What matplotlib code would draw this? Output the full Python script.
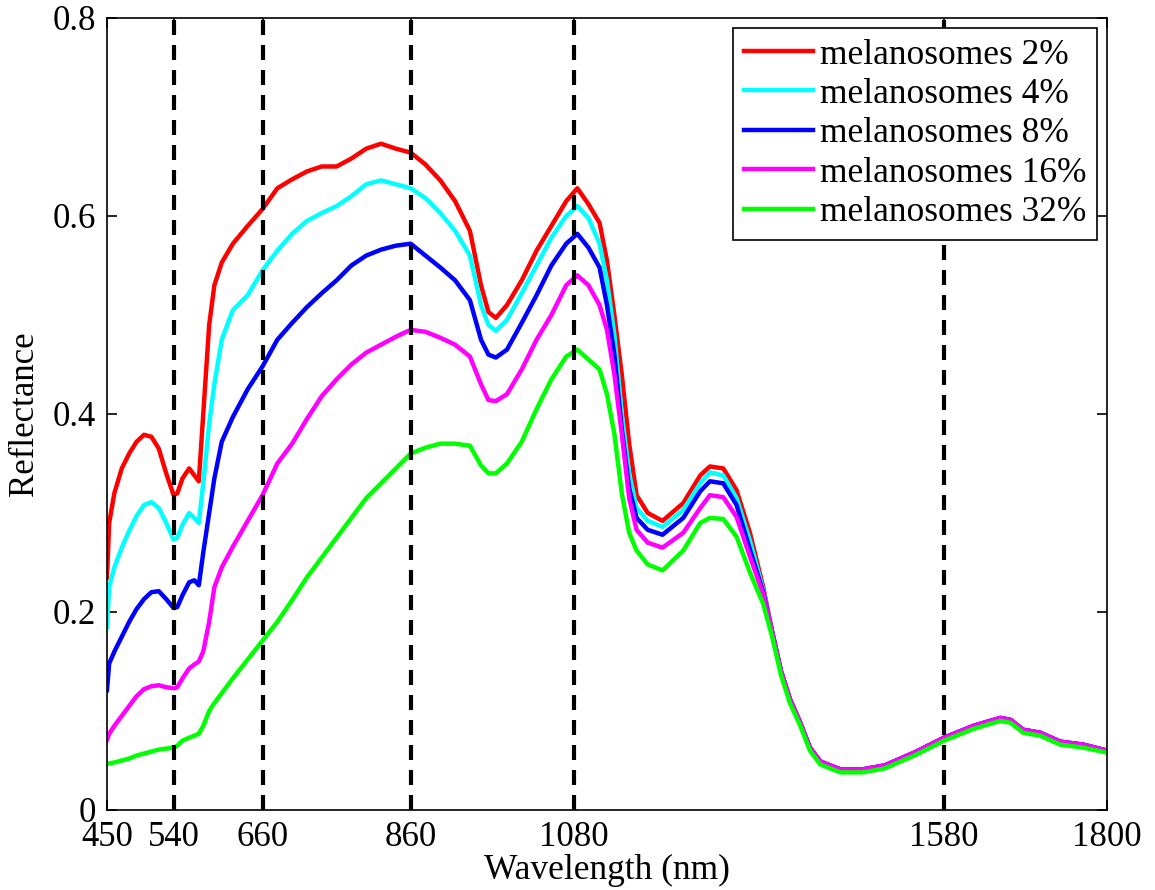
import matplotlib
matplotlib.use("Agg")
import matplotlib.pyplot as plt

plt.rcParams['font.family'] = ['Liberation Serif', 'DejaVu Serif']

# wavelength grid (nm)
wavelength = [450, 453, 460, 470, 480, 490, 500, 510, 520, 530,
              540, 545, 552, 561, 568, 574, 580, 588, 595, 605,
              620, 640, 660, 680, 700, 720, 740, 760, 780, 800,
              820, 840, 860, 880, 900, 920, 940, 955, 965, 975,
              990, 1010, 1030, 1050, 1070, 1085, 1100, 1115, 1125, 1135,
              1145, 1155, 1165, 1180, 1200, 1228, 1251, 1264, 1282, 1300,
              1318, 1336, 1348, 1360, 1372, 1386, 1399, 1413, 1440, 1470,
              1500, 1540, 1580, 1620, 1656, 1670, 1687, 1710, 1737, 1768, 1800]

# shared long-wavelength part (curves overlap there)
tail = [0.18, 0.14, 0.112, 0.088, 0.063, 0.049, 0.041, 0.041,
        0.045, 0.058, 0.073, 0.085, 0.093, 0.091, 0.081, 0.078, 0.069, 0.066, 0.06]
tail_32 = [0.175, 0.136, 0.108, 0.085, 0.06, 0.046, 0.038, 0.038,
           0.042, 0.055, 0.07, 0.082, 0.09, 0.088, 0.078, 0.075, 0.066, 0.063, 0.058]

mel_2 = [0.235, 0.29, 0.32, 0.345, 0.36, 0.372, 0.379, 0.377, 0.365, 0.34,
         0.318, 0.32, 0.335, 0.345, 0.338, 0.332, 0.40, 0.49, 0.53, 0.553,
         0.572, 0.59, 0.607, 0.628, 0.637, 0.645, 0.65, 0.65, 0.658, 0.668,
         0.673, 0.668, 0.664, 0.652, 0.636, 0.615, 0.585, 0.53, 0.503, 0.497,
         0.51, 0.535, 0.565, 0.59, 0.615, 0.628, 0.612, 0.593, 0.555, 0.50,
         0.44, 0.37, 0.318, 0.30, 0.292, 0.31, 0.338, 0.347, 0.345, 0.323,
         0.28, 0.225] + tail

mel_4 = [0.185, 0.225, 0.245, 0.265, 0.282, 0.297, 0.308, 0.311, 0.305, 0.29,
         0.273, 0.275, 0.288, 0.30, 0.295, 0.29, 0.33, 0.39, 0.43, 0.475,
         0.505, 0.52, 0.545, 0.565, 0.582, 0.595, 0.603, 0.61, 0.62, 0.632,
         0.636, 0.632, 0.628, 0.618, 0.603, 0.585, 0.56, 0.51, 0.49, 0.484,
         0.495, 0.522, 0.55, 0.578, 0.60, 0.61, 0.598, 0.572, 0.535, 0.48,
         0.40, 0.34, 0.305, 0.292, 0.286, 0.303, 0.33, 0.341, 0.338, 0.315,
         0.272, 0.222] + tail

mel_8 = [0.121, 0.148, 0.16, 0.175, 0.19, 0.203, 0.213, 0.22, 0.221, 0.213,
         0.204, 0.205, 0.217, 0.23, 0.232, 0.227, 0.26, 0.30, 0.335, 0.372,
         0.397, 0.425, 0.448, 0.475, 0.492, 0.508, 0.522, 0.535, 0.55, 0.56,
         0.566, 0.57, 0.572, 0.56, 0.548, 0.535, 0.515, 0.475, 0.46, 0.457,
         0.465, 0.492, 0.52, 0.55, 0.572, 0.582, 0.568, 0.548, 0.51, 0.46,
         0.385, 0.325, 0.295, 0.283, 0.278, 0.295, 0.322, 0.332, 0.33, 0.308,
         0.263, 0.22] + tail

mel_16 = [0.071, 0.077, 0.085, 0.095, 0.105, 0.115, 0.122, 0.125, 0.126, 0.124,
          0.123, 0.124, 0.133, 0.143, 0.147, 0.15, 0.16, 0.19, 0.225, 0.245,
          0.266, 0.292, 0.318, 0.35, 0.37, 0.395, 0.418, 0.435, 0.45, 0.462,
          0.47, 0.478, 0.485, 0.483, 0.477, 0.47, 0.458, 0.43, 0.414, 0.413,
          0.42, 0.445, 0.475, 0.50, 0.53, 0.54, 0.53, 0.51, 0.485, 0.44,
          0.38, 0.315, 0.283, 0.27, 0.265, 0.28, 0.305, 0.318, 0.316, 0.296,
          0.256, 0.218] + tail

mel_32 = [0.047, 0.047, 0.048, 0.05, 0.052, 0.055, 0.057, 0.059, 0.061, 0.062,
          0.063, 0.065, 0.07, 0.073, 0.075, 0.077, 0.085, 0.10, 0.108, 0.118,
          0.133, 0.152, 0.171, 0.19, 0.212, 0.235, 0.255, 0.275, 0.295, 0.315,
          0.33, 0.345, 0.36, 0.366, 0.37, 0.37, 0.368, 0.348, 0.34, 0.34,
          0.35, 0.372, 0.405, 0.435, 0.458, 0.465, 0.455, 0.445, 0.42, 0.38,
          0.32, 0.28, 0.262, 0.248, 0.242, 0.262, 0.29, 0.295, 0.294, 0.276,
          0.24, 0.208] + tail_32

series = [mel_2, mel_4, mel_8, mel_16, mel_32]
labels = ['melanosomes 2%', 'melanosomes 4%', 'melanosomes 8%',
          'melanosomes 16%', 'melanosomes 32%']
colors = ['#ff0000', '#00ffff', '#0000ff', '#ff00ff', '#00ff00']

marker_lines = [540, 660, 860, 1080, 1580]
xticks = [450, 540, 660, 860, 1080, 1580, 1800]
yticks = [0, 0.2, 0.4, 0.6, 0.8]
ytick_labels = ['0', '0.2', '0.4', '0.6', '0.8']

fig = plt.figure(figsize=(11.55, 8.9), dpi=100)
ax = fig.add_axes([0.0926, 0.0899, 0.8658, 0.8899])

for x in marker_lines:
    ax.axvline(x, color='black', lw=3, dashes=(3.6, 2.4), zorder=3)

for vals, lab, c in zip(series, labels, colors):
    ax.plot(wavelength, vals, color=c, lw=3.2, label=lab, zorder=2)

ax.set_xlim(450, 1800)
ax.set_ylim(0, 0.8)
ax.set_xticks(xticks)
ax.set_xticklabels([str(t) for t in xticks])
ax.set_yticks(yticks)
ax.set_yticklabels(ytick_labels)
ax.tick_params(direction='in', length=7, width=1.2, labelsize=25,
               top=True, right=True, pad=8)
for s in ax.spines.values():
    s.set_linewidth(1.2)

ax.set_xlabel('Wavelength (nm)', fontsize=25.5, labelpad=0)
ax.set_ylabel('Reflectance', fontsize=25, labelpad=8)

leg = ax.legend(loc='upper right', fontsize=25.5, frameon=True, fancybox=False,
                edgecolor='black', framealpha=1, handlelength=1.95,
                handletextpad=0.2, labelspacing=0.18, borderpad=0.3,
                borderaxespad=0.28)
leg.get_frame().set_linewidth(1.2)

fig.savefig('out.png', dpi=100)
